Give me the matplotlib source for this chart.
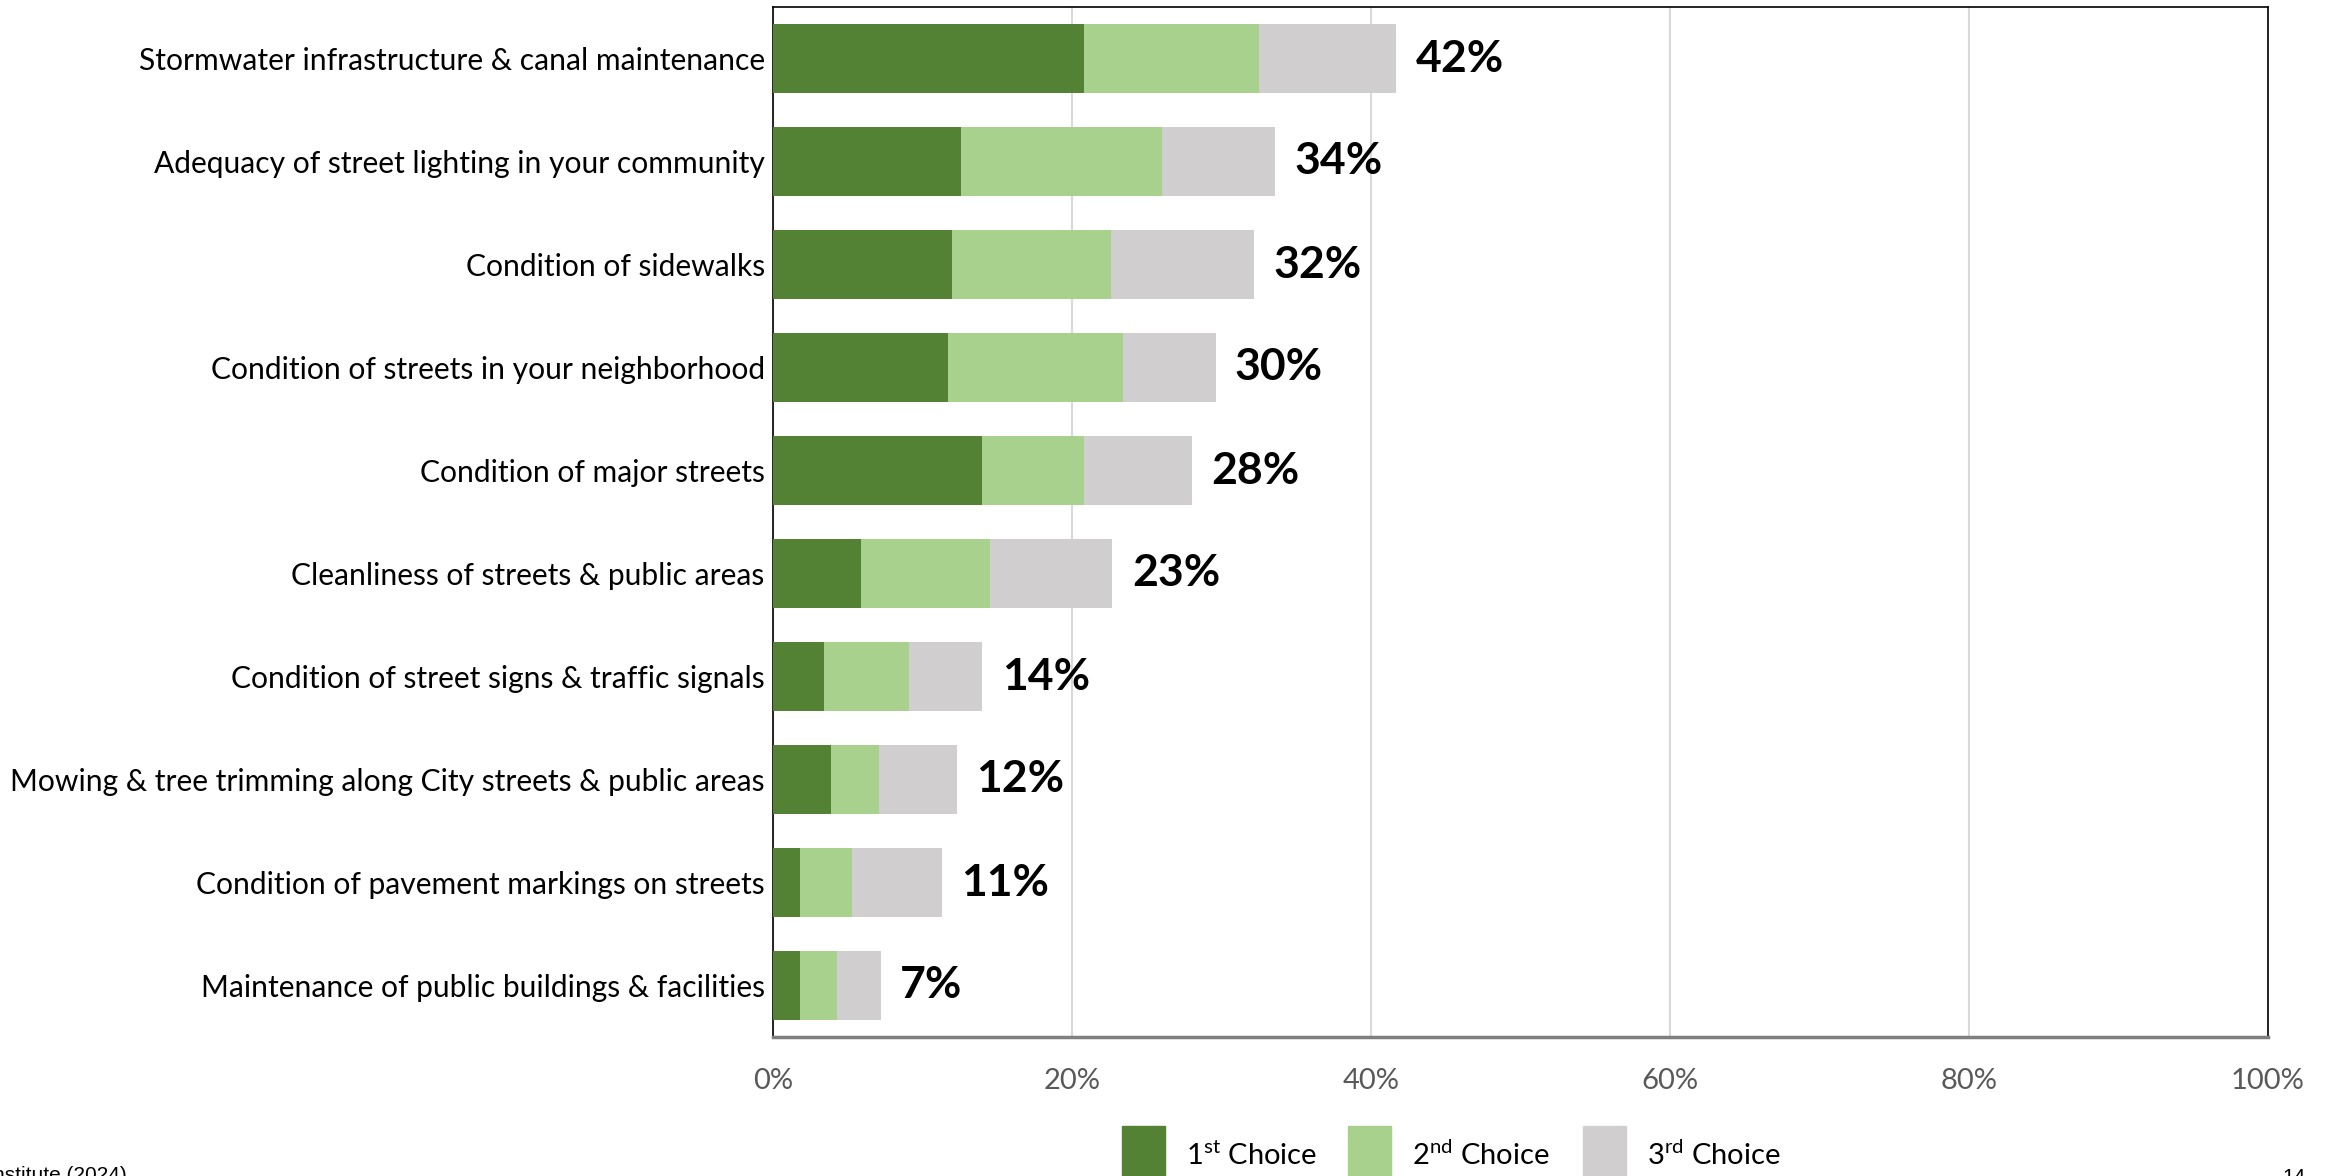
import matplotlib
matplotlib.use("Agg")
import matplotlib.pyplot as plt
from matplotlib.patches import Rectangle

# Survey results: share of respondents picking each item as a top-3 priority
categories = [
    "Stormwater infrastructure & canal maintenance",
    "Adequacy of street lighting in your community",
    "Condition of sidewalks",
    "Condition of streets in your neighborhood",
    "Condition of major streets",
    "Cleanliness of streets & public areas",
    "Condition of street signs & traffic signals",
    "Mowing & tree trimming along City streets & public areas",
    "Condition of pavement markings on streets",
    "Maintenance of public buildings & facilities",
]
first_choice = [20.8, 12.6, 12.0, 11.7, 14.0, 5.9, 3.4, 3.9, 1.8, 1.8]
second_choice = [11.7, 13.4, 10.6, 11.7, 6.8, 8.6, 5.7, 3.2, 3.5, 2.5]
third_choice = [9.2, 7.6, 9.6, 6.2, 7.2, 8.2, 4.9, 5.2, 6.0, 2.9]
total_labels = ["42%", "34%", "32%", "30%", "28%", "23%", "14%", "12%", "11%", "7%"]

legend_labels = [r"1$^{\rm st}$ Choice", r"2$^{\rm nd}$ Choice", r"3$^{\rm rd}$ Choice"]
colors = ["#548235", "#A9D18E", "#D0CECE"]
xticks = [0, 20, 40, 60, 80, 100]

FONT = "Lato"
plt.rcParams["font.family"] = [FONT, "DejaVu Sans"]
plt.rcParams["mathtext.fontset"] = "custom"
plt.rcParams["mathtext.rm"] = FONT

W, H = 2333, 1176
fig = plt.figure(figsize=(W / 100, H / 100), dpi=100)
ax = fig.add_axes([773 / W, 1 - 1037 / H, (2268 - 773) / W, (1037 - 7) / H])

ypos = list(range(len(categories)))
left = [0.0] * len(categories)
for vals, c in zip([first_choice, second_choice, third_choice], colors):
    ax.barh(ypos, vals, left=left, height=0.667, color=c, zorder=3)
    left = [l + v for l, v in zip(left, vals)]

# totals at the end of each stacked bar
for y, tot, lab in zip(ypos, left, total_labels):
    ax.annotate(lab, (tot, y), xytext=(14, 0), textcoords="offset points",
                ha="left", va="center", fontsize=32, fontweight="bold", color="black")

ax.set_xlim(0, 100)
ax.set_ylim(len(categories) - 0.5, -0.5)
ax.set_yticks(ypos)
ax.set_yticklabels(categories, fontsize=21.6, color="black")
ax.set_xticks(xticks)
ax.set_xticklabels([f"{t}%" for t in xticks], fontsize=21, color="#595959")
ax.tick_params(axis="y", length=0, pad=6)
ax.tick_params(axis="x", length=0, pad=22)

ax.grid(axis="x", color="#D9D9D9", linewidth=1.5, zorder=0)
for side in ["top", "right", "left"]:
    ax.spines[side].set_color("black")
    ax.spines[side].set_linewidth(1.2)
ax.spines["bottom"].set_color("#7F7F7F")
ax.spines["bottom"].set_linewidth(2.5)

# legend drawn below the plot area
leg_x = [1122, 1348, 1583]
for x, c, lab in zip(leg_x, colors, legend_labels):
    fig.add_artist(Rectangle((x / W, 1 - 1185 / H), 43 / W, 59 / H,
                             transform=fig.transFigure, color=c, clip_on=False))
    fig.text((x + 64) / W, 1 - 1165 / H, lab, fontsize=21, color="black",
             ha="left", va="baseline")

fig.text(127 / W, 1 - 1166 / H, "Source: ETC Institute (2024)", fontsize=15,
         family="Liberation Sans", ha="right", va="top", color="black")
fig.text(2282 / W, 1 - 1168 / H, "14", fontsize=15, family="Liberation Sans",
         ha="left", va="top", color="black")

fig.savefig("out.png", dpi=100)
